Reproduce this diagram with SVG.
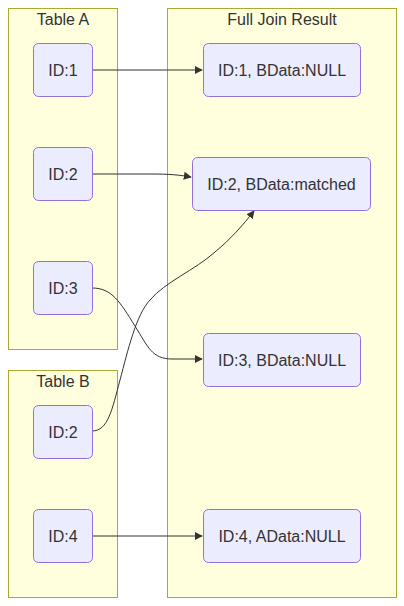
<svg xmlns="http://www.w3.org/2000/svg" width="404" height="606" viewBox="0 0 404 606">
<style>
.cluster rect{fill:#ffffde;stroke:#aaaa33;stroke-width:1}
.node rect{fill:#ECECFF;stroke:#9370DB;stroke-width:1}
text{font-family:"Liberation Sans",Arial,sans-serif;font-size:16px;fill:#333;text-anchor:middle}
.edges path{fill:none;stroke:#333;stroke-width:1}
</style>
<defs>
<marker id="arrow" viewBox="0 0 10 10" refX="9" refY="5" markerWidth="8" markerHeight="8" orient="auto" markerUnits="userSpaceOnUse">
<path d="M0,0 L10,5 L0,10 z" fill="#333"/>
</marker>
</defs>
<rect width="404" height="606" fill="#fff"/>
<g class="cluster" id="tableA"><rect x="8.5" y="8.5" width="109" height="341"/><text x="63" y="25">Table A</text></g>
<g class="cluster" id="result"><rect x="167.5" y="8.5" width="229" height="589"/><text x="282" y="25">Full Join Result</text></g>
<g class="cluster" id="tableB"><rect x="8.5" y="370.5" width="109" height="227"/><text x="63" y="387">Table B</text></g>
<g class="edges">
<path d="M92,70 L202,70" marker-end="url(#arrow)"/>
<path d="M92,174 L150,174 C170,174 180,175 191,177" marker-end="url(#arrow)"/>
<path d="M92,288 C112,288 120,302 135,326 C148,347 152,359 172,359 L202,359" marker-end="url(#arrow)"/>
<path d="M92,431 C108,431 112,410 120,380 C128,350 136,315 150,300 C165,282 195,270 215,252 C230,240 243,225 254,211" marker-end="url(#arrow)"/>
<path d="M92,536 L202,536" marker-end="url(#arrow)"/>
</g>
<g class="node" id="a1"><rect x="33.5" y="43.5" width="59" height="53" rx="5"/><text x="63" y="76">ID:1</text></g>
<g class="node" id="a2"><rect x="33.5" y="147.5" width="59" height="53" rx="5"/><text x="63" y="180">ID:2</text></g>
<g class="node" id="a3"><rect x="33.5" y="261.5" width="59" height="53" rx="5"/><text x="63" y="294">ID:3</text></g>
<g class="node" id="b2"><rect x="33.5" y="405.5" width="59" height="53" rx="5"/><text x="63" y="438">ID:2</text></g>
<g class="node" id="b4"><rect x="33.5" y="509.5" width="59" height="53" rx="5"/><text x="63" y="542">ID:4</text></g>
<g class="node" id="r1"><rect x="203.5" y="43.5" width="157" height="53" rx="5"/><text x="282" y="76">ID:1, BData:NULL</text></g>
<g class="node" id="r2"><rect x="192.5" y="157.5" width="178" height="53" rx="5"/><text x="281.5" y="190">ID:2, BData:matched</text></g>
<g class="node" id="r3"><rect x="203.5" y="333.5" width="157" height="53" rx="5"/><text x="282" y="366">ID:3, BData:NULL</text></g>
<g class="node" id="r4"><rect x="203.5" y="509.5" width="157" height="53" rx="5"/><text x="282" y="542">ID:4, AData:NULL</text></g>
</svg>
